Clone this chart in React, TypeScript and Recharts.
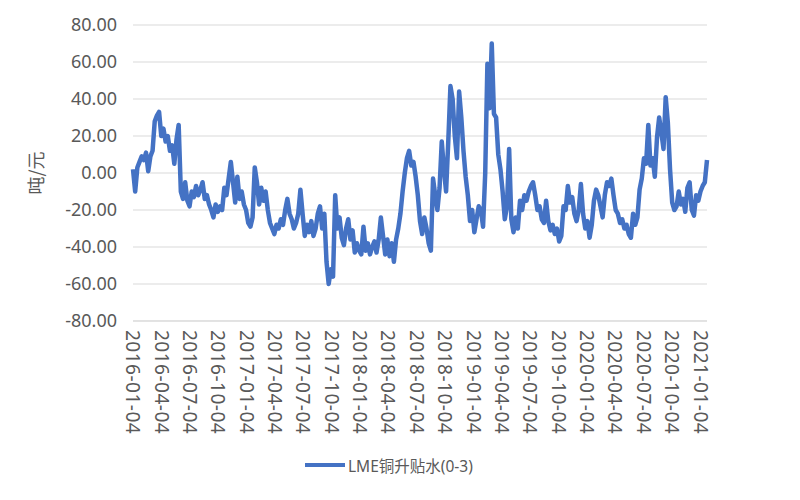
import { LineChart, Line, XAxis, YAxis, CartesianGrid, Legend } from "recharts";

const DAY = 86400000;
const START = Date.UTC(2016, 0, 4);

const tickLabels = [
  "2016-01-04", "2016-04-04", "2016-07-04", "2016-10-04",
  "2017-01-04", "2017-04-04", "2017-07-04", "2017-10-04",
  "2018-01-04", "2018-04-04", "2018-07-04", "2018-10-04",
  "2019-01-04", "2019-04-04", "2019-07-04", "2019-10-04",
  "2020-01-04", "2020-04-04", "2020-07-04", "2020-10-04",
  "2021-01-04",
];
const yTicks = [-80, -60, -40, -20, 0, 20, 40, 60, 80];

// weekly readings, starting 2016-01-04
const w2016 = [
  2, -10, 3, 6, 9, 7, 11, 1, 9, 12,
  28, 31, 33, 20, 24, 17, 20, 12, 15, 5,
  18, 26, -10, -14, -5, -15, -18, -10, -13, -7,
  -12, -9, -5, -14, -12, -17, -20, -24, -17, -21,
  -18, -20, -8, -12, -3, 6, -5, -16, -2, -14,
  -10, -17,
];
const w2017 = [
  -20, -27, -29, -24, 3, -5, -17, -8, -15, -10,
  -20, -27, -30, -33, -28, -30, -25, -28, -20, -14,
  -22, -25, -30, -27, -22, -9, -22, -34, -28, -32,
  -26, -34, -30, -22, -18, -30, -22, -48, -60, -52,
  -56, -12, -30, -24, -35, -39, -30, -25, -36, -31,
  -43, -38, -42,
];
const w2018 = [
  -44, -29, -42, -38, -44, -40, -37, -43, -36, -24,
  -34, -44, -36, -45, -38, -48, -36, -30, -22, -10,
  0, 8, 12, 4, 6, -2, -12, -26, -33, -24,
  -30, -38, -42, -3, -12, -20, -8, 17, 2, -10,
  17, 47, 40, 20, 8, 44, 30, 12, -2, -12,
  -26, -20,
];
const w2019 = [
  -32, -25, -18, -20, -29, 0, 59, 35, 70, 32,
  30, 10, 2, -10, -25, -18, 13, -25, -32, -24,
  -30, -15, -20, -12, -15, -10, -7, -5, -12, -20,
  -18, -25, -27, -15, -26, -31, -28, -33, -30, -37,
  -34, -18, -20, -7, -16, -13, -22, -26, -20, -6,
  -22, -30,
];
const w2020 = [
  -26, -35, -28, -15, -9, -12, -18, -24, -12, -5,
  -7, -3, -12, -20, -22, -27, -25, -30, -28, -33,
  -35, -22, -28, -24, -9, -3, 8, 5, 26, 4,
  8, -2, 19, 30, 22, 13, 41, 27, 2, -16,
  -20, -18, -10, -17, -14, -21, -8, -5, -20, -23,
  -12, -15,
];
const w2021 = [-10, -7, -5, 7];

const values = [...w2016, ...w2017, ...w2018, ...w2019, ...w2020, ...w2021];
const data = values.map((v, i) => ({ t: START + i * 7 * DAY, v }));
const xTicks = tickLabels.map((s) => Date.parse(s));
const END = data[data.length - 1].t;

const GREY = "#595959";
const FONT = "'Noto Sans', 'Noto Sans CJK SC', sans-serif";

const XTick = ({ x, y, payload }: any) => {
  const s = new Date(payload.value).toISOString().slice(0, 10);
  return (
    <text
      x={x}
      y={y}
      transform={`rotate(90 ${x} ${y})`}
      dy="0.35em"
      textAnchor="start"
      fill={GREY}
      fontSize={19}
      letterSpacing={0.5}
      fontFamily={FONT}
    >
      {s}
    </text>
  );
};

const YLabel = ({ viewBox }: any) => {
  const cx = viewBox.x + 35;
  const cy = viewBox.y + viewBox.height / 2;
  return (
    <text
      x={cx}
      y={cy}
      transform={`rotate(-90 ${cx} ${cy})`}
      textAnchor="middle"
      dominantBaseline="central"
      fill={GREY}
      fontSize={18}
      fontFamily="'Noto Sans CJK SC', sans-serif"
    >
      吨/元
    </text>
  );
};

const LegendBox = () => (
  <div style={{ display: "flex", alignItems: "center", paddingLeft: 305, height: 20 }}>
    <span style={{ display: "inline-block", width: 40, height: 4, background: "#4472c4" }} />
    <span style={{ marginLeft: 3, color: GREY, fontSize: 15.5, fontFamily: FONT }}>LME铜升贴水(0-3)</span>
  </div>
);

export default function App() {
  return (
    <div style={{ width: 800, height: 500, background: "#fff" }}>
      <style>{`body{margin:0}`}</style>
      <LineChart
        width={800}
        height={500}
        data={data}
        margin={{ top: 25, right: 93, left: 0, bottom: 25 }}
      >
        <CartesianGrid vertical={false} stroke="#d9d9d9" />
        <XAxis
          type="number"
          dataKey="t"
          domain={[START, END]}
          ticks={xTicks}
          interval={0}
          tick={<XTick />}
          tickLine={false}
          tickMargin={3}
          axisLine={{ stroke: "#d9d9d9" }}
          height={134}
        />
        <YAxis
          domain={[-80, 80]}
          ticks={yTicks}
          tickFormatter={(v: number) => v.toFixed(2)}
          axisLine={false}
          tickLine={false}
          tickMargin={10}
          width={133}
          tick={{ fill: GREY, fontSize: 18, fontFamily: FONT }}
          label={<YLabel />}
        />
        <Legend verticalAlign="bottom" height={20} content={() => <LegendBox />} />
        <Line
          type="linear"
          dataKey="v"
          stroke="#4472c4"
          strokeWidth={4.5}
          strokeLinejoin="round"
          dot={false}
          isAnimationActive={false}
        />
      </LineChart>
    </div>
  );
}
